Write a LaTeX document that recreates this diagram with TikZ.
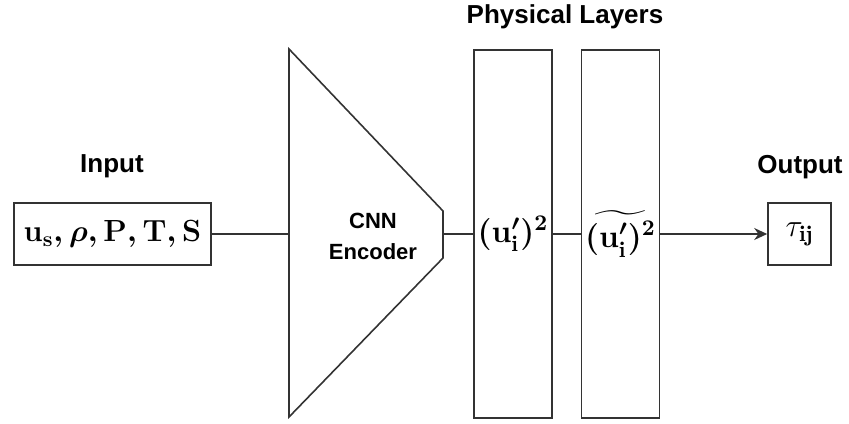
\RequirePackage{fix-cm}
\documentclass[tikz,border=0pt]{standalone}
\usepackage{amsmath}
\usepackage{fontspec}
\setsansfont{Liberation Sans}
\usetikzlibrary{arrows.meta}
\tikzset{
    iobox/.style = {
        rectangle, draw=black!80, line width=0.8pt, minimum height=31pt, inner sep=0,
        font=\fontsize{16}{19}\selectfont
    },
    layer/.style = {
        rectangle, draw=black!80, line width=0.8pt, minimum width=39pt, minimum height=184pt,
        inner sep=0, font=\fontsize{16}{19}\selectfont
    },
    heading/.style = {
        anchor=base, font=\sffamily\bfseries\fontsize{13}{15}\selectfont
    }
}

\begin{document}
\begin{tikzpicture}[x=0.5pt, y=-0.5pt, line width=0.8pt]
    \useasboundingbox (0,0) rectangle (849,423);
    % input
    \node[iobox, minimum width=98.5pt, font=\fontsize{15.3}{18}\selectfont] (input) at (112.5,234) {$\boldsymbol{\mathbf{u_s}, \rho, \mathbf{P}, \mathbf{T}, \mathbf{S}}$};
    \node[heading] (inputlabel) at (112,172) {Input};
    % encoder
    \draw[black!80] (289,49) -- (443,211) -- (443,258) -- (289,417) -- cycle;
    \coordinate (encin) at (289,234);
    \coordinate (encout) at (443,234);
    \node[align=center, font=\sffamily\bfseries\fontsize{11}{15.5}\selectfont] (encoder) at (373,236) {CNN\\Encoder};
    % physical layers
    \node[layer] (square) at (513,234) {$\boldsymbol{(\mathbf{u}'_{\mathrm{i}})^{2}}$};
    \node[layer] (filtered) at (620.5,234) {$\widetilde{\boldsymbol{(\mathbf{u}'_{\mathrm{i}})^{2}}}$};
    \node[heading] (layerlabel) at (565,23) {Physical Layers};
    % output
    \node[iobox, minimum width=31.5pt] (output) at (799.5,234) {$\tau_{\mathbf{ij}}$};
    \node[heading] (outputlabel) at (800,173) {Output};
    \draw[black!80] (input) -- (encin);
    \draw[black!80] (encout) -- (square);
    \draw[black!80] (square) -- (filtered);
    \draw[black!80, -{Stealth[length=6.5pt, width=6pt]}] (filtered) -- (output);
\end{tikzpicture}
\end{document}
